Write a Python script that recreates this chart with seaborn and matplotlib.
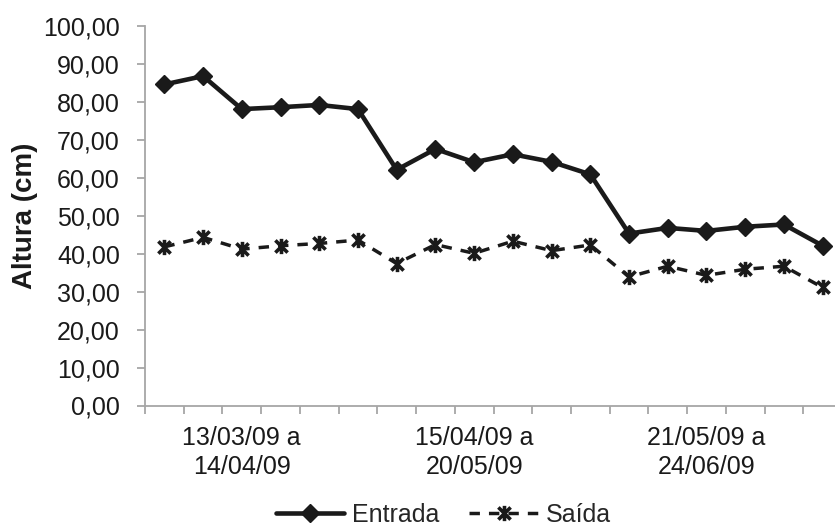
import matplotlib
matplotlib.use("Agg")
import matplotlib.pyplot as plt
import seaborn as sns
import numpy as np
import pandas as pd
from matplotlib.path import Path
from matplotlib.ticker import FixedLocator, FuncFormatter

# ---- data ----
entrada = [84.6, 86.8, 78.1, 78.6, 79.2, 78.1, 62.1, 67.6, 64.1, 66.2, 64.2, 60.9,
           45.3, 46.8, 46.0, 47.1, 47.7, 42.1]
saida = [41.8, 44.3, 41.2, 42.1, 42.7, 43.6, 37.4, 42.4, 40.1, 43.3, 40.8, 42.3,
         33.9, 36.7, 34.3, 35.9, 36.7, 31.1]
period_labels = ["13/03/09 a\n14/04/09", "15/04/09 a\n20/05/09", "21/05/09 a\n24/06/09"]
label_positions = [2, 8, 14]
series_names = ["Entrada", "Saída"]

idx = np.arange(len(entrada))
df = pd.DataFrame({
    "x": np.concatenate([idx, idx]),
    "y": entrada + saida,
    "serie": [series_names[0]] * len(entrada) + [series_names[1]] * len(saida),
})

sns.set_theme(style="white")
plt.rcParams["font.family"] = ["Liberation Sans", "DejaVu Sans"]

fig = plt.figure(figsize=(8.35, 5.30), dpi=100)
ax = fig.add_axes([145 / 835, 1 - 405.5 / 530, (842 - 145) / 835, (405.5 - 26) / 530])

star = Path([(0, -1), (0, 1), (-0.8, -0.8), (0.8, 0.8), (-0.8, 0.8), (0.8, -0.8)],
            [Path.MOVETO, Path.LINETO, Path.MOVETO, Path.LINETO, Path.MOVETO, Path.LINETO])

col = "#1a1a1a"
sns.lineplot(data=df[df.serie == "Entrada"], x="x", y="y", ax=ax, color=col,
             linewidth=3.3, marker="D", markersize=9, markeredgewidth=1,
             markeredgecolor=col, label="Entrada")
sns.lineplot(data=df[df.serie == "Saída"], x="x", y="y", ax=ax, color=col,
             linewidth=2.5, marker=star, markersize=11, markeredgewidth=2.6,
             markeredgecolor=col, label="Saída")
ax.lines[1].set_dashes([3.0, 2.6])

ax.set_xlim(-0.5, len(entrada) - 0.5)
ax.set_ylim(0, 100)
ax.set_yticks(np.arange(0, 101, 10))
ax.yaxis.set_major_formatter(FuncFormatter(lambda v, p: f"{v:.2f}".replace(".", ",")))

ax.xaxis.set_major_locator(FixedLocator(np.arange(-0.5, len(entrada), 1.0)))
ax.xaxis.set_major_formatter(FuncFormatter(lambda v, p: ""))
ax.xaxis.set_minor_locator(FixedLocator(label_positions))
ax.set_xticklabels(period_labels, minor=True)

gray = "#a6a6a6"
for s in ["top", "right"]:
    ax.spines[s].set_visible(False)
for s in ["left", "bottom"]:
    ax.spines[s].set_color(gray)
    ax.spines[s].set_linewidth(1.3)
ax.tick_params(axis="both", which="major", direction="out", length=6, width=1.3,
               color=gray, labelsize=18, labelcolor="#1a1a1a", bottom=True, left=True)
ax.tick_params(axis="x", which="minor", length=0, labelsize=18, labelcolor="#1a1a1a", pad=15)
for t in ax.get_xticklabels(minor=True):
    t.set_linespacing(1.25)
ax.tick_params(axis="y", pad=12)

ax.set_xlabel("")
ax.set_ylabel("Altura (cm)", fontsize=20, fontweight="bold", color="#1a1a1a", labelpad=4)

if ax.legend_:
    ax.legend_.remove()
h, l = ax.get_legend_handles_labels()
fig.legend(h, l, loc="center", bbox_to_anchor=(443 / 835, 1 - 515 / 530), ncol=2,
           frameon=False, fontsize=18, handlelength=2.75, handletextpad=0.3,
           columnspacing=1.2, borderaxespad=0, borderpad=0)

fig.savefig("out.png", dpi=100)
